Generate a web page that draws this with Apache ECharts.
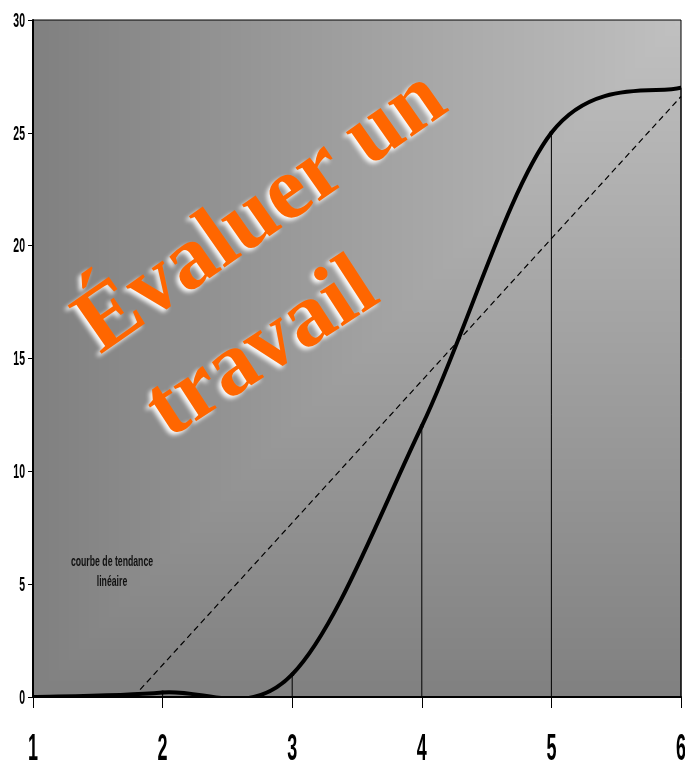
<!DOCTYPE html>
<html>
<head>
<meta charset="utf-8">
<title>Évaluer un travail</title>
<script src="https://cdn.jsdelivr.net/npm/echarts@6/dist/echarts.min.js"></script>
<style>
  html, body { margin: 0; padding: 0; background: #ffffff; }
  #chart { width: 685px; height: 765px; }
</style>
</head>
<body>
<div id="chart"></div>
<script>
// Steps of the work (x) and the score reached at each step (y)
const steps = [1, 2, 3, 4, 5, 6];
const scores = [0, 0.2, 1, 12, 25, 27];

// Tick labels
const xTickLabels = ['1', '2', '3', '4', '5', '6'];
const yTickValues = [0, 5, 10, 15, 20, 25, 30];

// Texts drawn on the plot
const titleLines = ['Évaluer un', 'travail'];
const trendNote = ['courbe de tendance', 'linéaire'];

// Least-squares trend line through the scores
function linearFit(xs, ys) {
  const n = xs.length;
  const mx = xs.reduce((a, b) => a + b, 0) / n;
  const my = ys.reduce((a, b) => a + b, 0) / n;
  let sxy = 0, sxx = 0;
  for (let i = 0; i < n; i++) {
    sxy += (xs[i] - mx) * (ys[i] - my);
    sxx += (xs[i] - mx) * (xs[i] - mx);
  }
  const slope = sxy / sxx;
  return { slope, intercept: my - slope * mx };
}
const fit = linearFit(steps, scores);
const xEnd = steps[steps.length - 1];
const xZero = -fit.intercept / fit.slope;
const trendData = [[xZero, 0], [xEnd, fit.slope * xEnd + fit.intercept]];

const pointData = steps.map((x, i) => [x, scores[i]]);

const chart = echarts.init(document.getElementById('chart'), null, { renderer: 'canvas' });

chart.setOption({
  animation: false,
  grid: {
    left: 33, right: 4, top: 20, bottom: 68,
    show: true, borderColor: '#000', borderWidth: 1, backgroundColor: 'transparent'
  },
  xAxis: {
    type: 'value', min: 1, max: 6, interval: 1,
    axisLine: { show: true, onZero: false, lineStyle: { color: '#000', width: 2 } },
    axisTick: { show: true, inside: false, length: 11, lineStyle: { color: '#000', width: 1 } },
    axisLabel: { show: false },
    splitLine: { show: false }
  },
  yAxis: {
    type: 'value', min: 0, max: 30, interval: 5,
    axisLine: { show: true, lineStyle: { color: '#000', width: 2 } },
    axisTick: { show: true, inside: false, length: 5, lineStyle: { color: '#000', width: 1 } },
    axisLabel: { show: false },
    splitLine: { show: false }
  },
  series: [
    {
      // vertical drop lines from the axis up to each point
      name: 'drop',
      type: 'custom',
      data: pointData,
      z: 3,
      renderItem: function (params, api) {
        const x = api.value(0), y = api.value(1);
        const p0 = api.coord([x, 0]);
        const p1 = api.coord([x, y]);
        return {
          type: 'line',
          shape: { x1: p0[0], y1: p0[1], x2: p1[0], y2: p1[1] },
          style: { stroke: '#000', lineWidth: 1 }
        };
      }
    },
    {
      name: 'tendance',
      type: 'line',
      data: trendData,
      symbol: 'none',
      z: 4,
      lineStyle: { color: '#000', width: 1.2, type: [6, 4] }
    },
    {
      // smoothed score curve: one cubic segment per interval (Catmull-Rom tangents)
      name: 'score',
      type: 'custom',
      data: pointData,
      clip: true,
      z: 5,
      renderItem: function (params, api) {
        const i = params.dataIndex;
        const n = pointData.length;
        if (i >= n - 1) return null;
        const P = function (k) {
          k = Math.max(0, Math.min(n - 1, k));
          return api.coord(pointData[k]);
        };
        const p0 = P(i - 1), p1 = P(i), p2 = P(i + 1), p3 = P(i + 2);
        return {
          type: 'bezierCurve',
          shape: {
            x1: p1[0], y1: p1[1],
            x2: p2[0], y2: p2[1],
            cpx1: p1[0] + (p2[0] - p0[0]) / 6, cpy1: p1[1] + (p2[1] - p0[1]) / 6,
            cpx2: p2[0] - (p3[0] - p1[0]) / 6, cpy2: p2[1] - (p3[1] - p1[1]) / 6
          },
          style: { stroke: '#000', lineWidth: 4, fill: null, lineCap: 'round' }
        };
      }
    }
  ]
});

// Plot background: light in the upper-right corner, fading to mid grey
function makeBackground(w, h) {
  const cv = document.createElement('canvas');
  cv.width = w; cv.height = h;
  const ctx = cv.getContext('2d');
  const img = ctx.createImageData(w, h);
  for (let y = 0; y < h; y++) {
    for (let x = 0; x < w; x++) {
      const t = Math.min(x / (w - 1), 1 - y / (h - 1));
      const c = Math.round(128 + 64 * t);
      const k = (y * w + x) * 4;
      img.data[k] = c; img.data[k + 1] = c; img.data[k + 2] = c; img.data[k + 3] = 255;
    }
  }
  ctx.putImageData(img, 0, 0);
  return cv;
}

const topLeft = chart.convertToPixel({ gridIndex: 0 }, [1, 30]);
const bottomRight = chart.convertToPixel({ gridIndex: 0 }, [6, 0]);
const bgW = Math.round(bottomRight[0] - topLeft[0]);
const bgH = Math.round(bottomRight[1] - topLeft[1]);
const bgCanvas = makeBackground(bgW, bgH);

const graphics = [];
graphics.push({
  type: 'rect',
  x: topLeft[0], y: topLeft[1],
  z: -10,
  silent: true,
  shape: { x: 0, y: 0, width: bgW, height: bgH },
  style: { fill: { image: bgCanvas, repeat: 'no-repeat' } }
});

// Condensed bold tick labels
xTickLabels.forEach(function (lab, i) {
  const p = chart.convertToPixel({ gridIndex: 0 }, [steps[i], 0]);
  graphics.push({
    type: 'text', x: p[0], y: p[1] + 53, scaleX: 0.5, z: 20,
    style: {
      text: lab, fill: '#000', font: 'bold 36px "Liberation Sans", Arial, sans-serif',
      align: 'center', verticalAlign: 'middle'
    }
  });
});
yTickValues.forEach(function (v) {
  const p = chart.convertToPixel({ gridIndex: 0 }, [1, v]);
  graphics.push({
    type: 'text', x: p[0] - 8, y: p[1] + 1, scaleX: 0.5, z: 20,
    style: {
      text: String(v), fill: '#000', font: 'bold 21px "Liberation Sans", Arial, sans-serif',
      align: 'right', verticalAlign: 'middle'
    }
  });
});

// Note about the dashed line
trendNote.forEach(function (line, i) {
  graphics.push({
    type: 'text', x: 112, y: 562 + i * 20, scaleX: 0.58, z: 20,
    style: {
      text: line, fill: '#111', font: 'bold 15px "Liberation Sans", Arial, sans-serif',
      align: 'center', verticalAlign: 'middle'
    }
  });
});

// Slanted title
const titlePos = [[262, 213], [263, 350]];
const titleRot = [35, 33];
titleLines.forEach(function (line, i) {
  graphics.push({
    type: 'text', x: titlePos[i][0], y: titlePos[i][1],
    rotation: titleRot[i] * Math.PI / 180, z: 30,
    style: {
      text: line, fill: '#FF6600',
      font: 'bold 90px "Liberation Serif", "Times New Roman", serif',
      align: 'center', verticalAlign: 'middle',
      textShadowColor: 'rgba(255,255,255,0.95)', textShadowBlur: 4,
      textShadowOffsetX: -3, textShadowOffsetY: 3
    }
  });
});

chart.setOption({ graphic: graphics });
</script>
</body>
</html>
